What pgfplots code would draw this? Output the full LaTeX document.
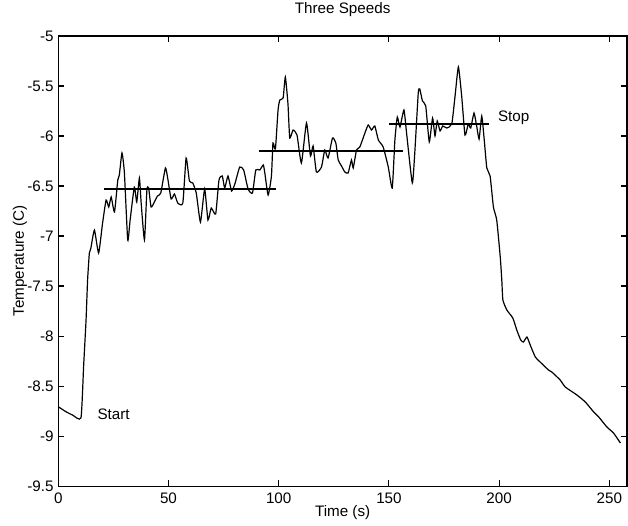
\documentclass[border=0pt]{standalone}
\usepackage{pgfplots}
\pgfplotsset{compat=1.18}
\usepackage{fontspec}
\setmainfont{Liberation Sans}
\begin{document}
\begin{tikzpicture}
\begin{axis}[
  scale only axis,
  width=426.5pt, height=337.5pt,
  xmin=0, xmax=258, ymin=-9.5, ymax=-5,
  xtick={0,50,100,150,200,250},
  ytick={-9.5,-9,-8.5,-8,-7.5,-7,-6.5,-6,-5.5,-5},
  tick align=inside, tick pos=both,
  major tick length=4.2pt,
  axis line style={line width=0.8pt},
  every tick/.style={black, line width=0.8pt},
  font=\fontsize{11.4}{13.5}\selectfont,
  /pgf/number format/assume math mode=true,
  yticklabel style={/pgf/number format/fixed},
  xticklabel style={yshift=-1.5pt},
  title={Three Speeds},
  title style={at={(axis description cs:0.5,1.033)}, anchor=base, inner sep=0pt},
  xlabel={Time (s)},
  xlabel style={at={(axis description cs:0.5,-0.0667)}, anchor=base, inner sep=0pt},
  ylabel={Temperature (C)},
  ylabel style={at={(axis description cs:-0.0603,0.5)}, anchor=base, inner sep=0pt},
  clip=false,
]
\addplot[black, line width=0.9pt, smooth, tension=0.3] coordinates {
(0,-8.707) (3.5,-8.757) (6.5,-8.79) (10.3,-8.817) (11.5,-8.3) (12.6,-7.84) (13.3,-7.44)
(14.1,-7.17) (14.8,-7.12) (16.4,-6.94) (18.3,-7.17) (20.1,-6.87) (21.7,-6.64) (22.9,-6.71)
(24,-6.61) (25.5,-6.76) (27,-6.44) (27.7,-6.39) (28.9,-6.17) (30,-6.37) (31.5,-7.04)
(32.6,-6.84) (34.5,-6.51) (35.6,-6.66) (36.8,-6.42) (37.6,-6.67) (39.1,-7.04) (40.2,-6.54)
(41,-6.52) (42.1,-6.71) (43.6,-6.66) (45,-6.6) (46.5,-6.57) (48.6,-6.32) (49.7,-6.43)
(51.2,-6.63) (52.7,-6.58) (54.2,-6.67) (56.5,-6.67) (58,-6.22) (59.5,-6.45) (61,-6.47)
(62.6,-6.57) (64.5,-6.86) (66.4,-6.53) (67.9,-6.84) (69.4,-6.72) (71.4,-6.78) (72.9,-6.44)
(74.4,-6.40) (75.5,-6.52) (77,-6.40) (78.6,-6.55) (80.1,-6.48) (82.3,-6.31) (84.1,-6.34)
(86.1,-6.53) (88.1,-6.57) (89.6,-6.34) (91.4,-6.34) (93,-6.29) (93.7,-6.37) (95.2,-6.59)
(96.7,-6.40) (97.4,-6.07) (98.5,-6.13) (99.7,-5.74) (100.5,-5.64) (102,-5.62) (103,-5.41)
(104.2,-5.68) (105,-6.02) (106.5,-5.94) (108.3,-5.99) (110.3,-6.27) (112.6,-5.87) (114.4,-6.2)
(115.6,-6.1) (117.1,-6.36) (119.4,-6.31) (120.9,-6.14) (122.4,-6.22) (124.4,-6.02) (125.9,-6.07)
(127,-6.24) (128.5,-6.30) (130,-6.36) (131.5,-6.37) (133,-6.24) (133.8,-6.32) (135.3,-6.14)
(136.8,-6.11) (139.1,-5.97) (140.6,-5.89) (142.1,-5.94) (143.6,-5.90) (145.2,-6.04) (147.4,-6.11)
(149.7,-6.31) (151.5,-6.52) (152.7,-6.04) (153.8,-5.81) (155,-5.91) (156.8,-5.74) (158,-5.97)
(160.6,-6.47) (161.8,-6.14) (163.3,-5.57) (164,-5.53) (165.2,-5.65) (166.7,-5.70) (168.3,-6.06)
(169.8,-5.82) (170.9,-6.0) (171.9,-5.85) (173.2,-5.95) (174.4,-5.90) (176.2,-5.92) (178.5,-5.88)
(180,-5.60) (181.5,-5.31) (183,-5.60) (184.5,-5.99) (186,-5.88) (187.1,-5.92) (188.6,-5.77)
(189.8,-5.90) (190.9,-6.03) (192.1,-5.80) (193.2,-6.03) (194.4,-6.32) (195.9,-6.40) (197.4,-6.71)
(198.9,-6.84) (200.5,-7.21) (201.2,-7.44) (201.7,-7.64) (203.5,-7.74) (206.2,-7.82) (208,-7.94)
(209.8,-8.04) (211,-8.06) (212.6,-8.01) (214.1,-8.09) (216.4,-8.21) (218.6,-8.26) (222.4,-8.34)
(223.9,-8.36) (227.7,-8.44) (230,-8.51) (235.3,-8.59) (239.1,-8.66) (242.9,-8.76) (245.2,-8.81)
(248.9,-8.91) (251.9,-8.97) (255,-9.07)
};
\addplot[black, line width=1.5pt] coordinates {(20.9,-6.53) (98.6,-6.53)};
\addplot[black, line width=1.5pt] coordinates {(91,-6.15) (156.5,-6.15)};
\addplot[black, line width=1.5pt] coordinates {(150.2,-5.88) (195.6,-5.88)};
\node[anchor=west, inner sep=0pt] at (axis cs:17.7,-8.78) {Start};
\node[anchor=west, inner sep=0pt] at (axis cs:199.4,-5.82) {Stop};
\end{axis}
\pgfresetboundingbox
\path ([shift={(-43.7pt,-29.25pt)}]current axis.south west) rectangle ([shift={(0.75pt,27pt)}]current axis.north east);
\end{tikzpicture}
\end{document}
